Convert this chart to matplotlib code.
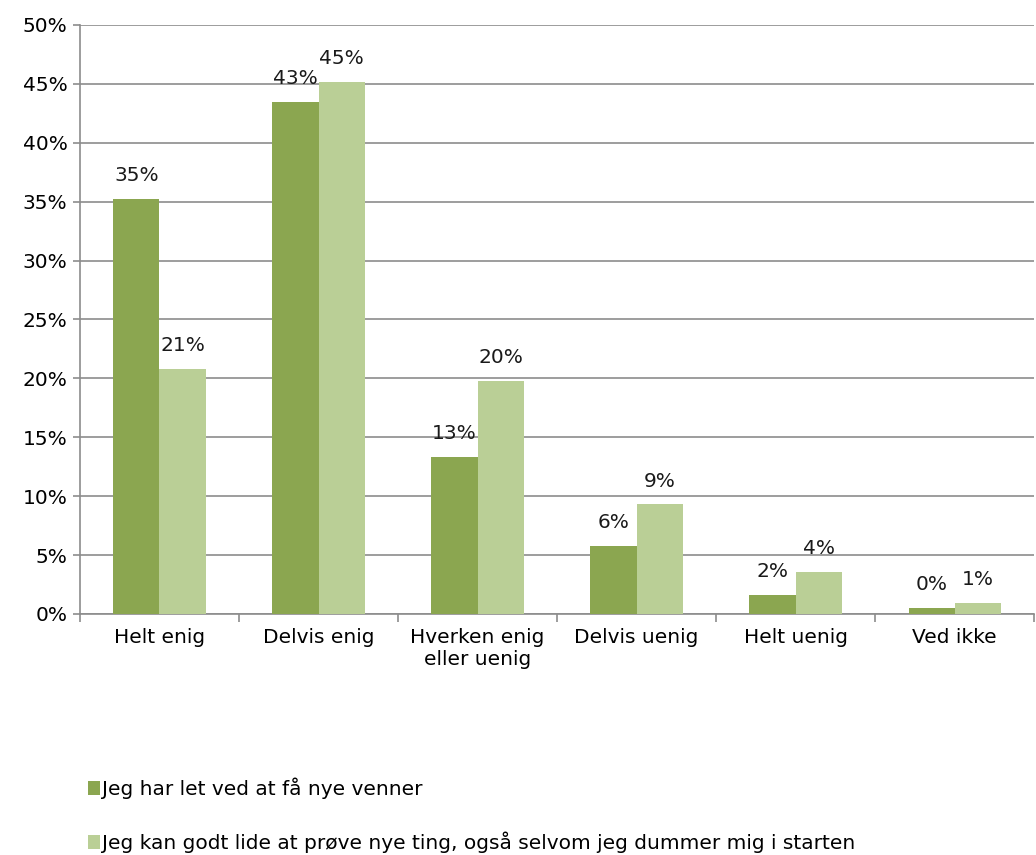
import numpy as np
import matplotlib.pyplot as plt
from matplotlib.ticker import PercentFormatter

plt.rcParams["font.family"] = ["Verdana", "DejaVu Sans"]

categories = ["Helt enig", "Delvis enig", "Hverken enig\neller uenig",
              "Delvis uenig", "Helt uenig", "Ved ikke"]
venner = [35.2, 43.5, 13.3, 5.8, 1.6, 0.5]
nye_ting = [20.8, 45.2, 19.8, 9.3, 3.6, 0.9]
labels_venner = ["35%", "43%", "13%", "6%", "2%", "0%"]
labels_nye = ["21%", "45%", "20%", "9%", "4%", "1%"]
series_names = ["Jeg har let ved at få nye venner",
                "Jeg kan godt lide at prøve nye ting, også selvom jeg dummer mig i starten"]

dark = "#8BA650"
light = "#BACF96"
grid = "#8C8C8C"
fs = 14.5

fig = plt.figure(figsize=(10.36, 8.55), dpi=100)
ax = fig.add_axes([0.0772, 0.2819, 0.921, 0.6889])

x = np.arange(len(categories))
w = 0.29
b1 = ax.bar(x - w / 2, venner, w, color=dark, label=series_names[0], zorder=3)
b2 = ax.bar(x + w / 2, nye_ting, w, color=light, label=series_names[1], zorder=3)

for bars, labs in [(b1, labels_venner), (b2, labels_nye)]:
    for rect, lab in zip(bars, labs):
        ax.annotate(lab, (rect.get_x() + rect.get_width() / 2, rect.get_height()),
                    xytext=(0, 10), textcoords="offset points",
                    ha="center", va="bottom", fontsize=fs, color="#1a1a1a")

ax.set_ylim(0, 50)
ax.set_xlim(-0.5, len(categories) - 0.5)
ax.set_yticks(np.arange(0, 51, 5))
ax.yaxis.set_major_formatter(PercentFormatter(decimals=0))
ax.yaxis.grid(True, color=grid, linewidth=1.2, zorder=0)
ax.set_xticks(x)
ax.set_xticklabels(categories, fontsize=fs)
ax.set_xticks(np.arange(-0.5, len(categories) + 0.5, 1), minor=True)
ax.tick_params(axis="x", which="major", length=0, pad=10)
ax.tick_params(axis="x", which="minor", length=6, color=grid, width=1.2)
ax.tick_params(axis="y", length=5, color=grid, width=1.2, labelsize=fs, pad=4)

for s in ["top", "right"]:
    ax.spines[s].set_visible(False)
for s in ["left", "bottom"]:
    ax.spines[s].set_color(grid)
    ax.spines[s].set_linewidth(1.2)

fig.legend(loc="upper left", bbox_to_anchor=(0.075, 0.102), frameon=False,
           fontsize=fs, handlelength=0.6, handleheight=0.7, handletextpad=0.1,
           labelspacing=1.6, borderpad=0)

fig.savefig("out.png", dpi=100)
